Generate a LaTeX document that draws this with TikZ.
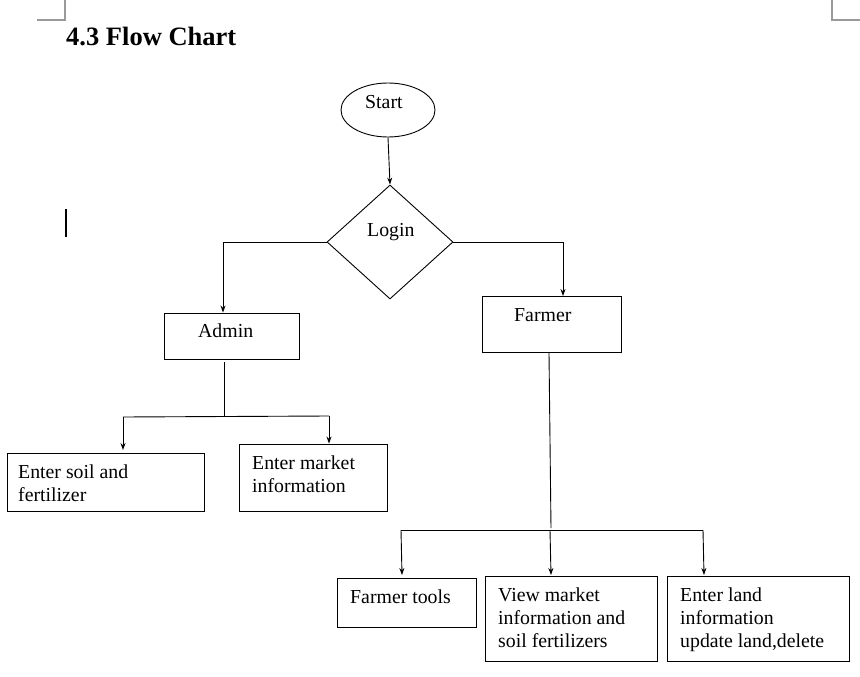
\documentclass[tikz,border=0pt]{standalone}
\usepackage{fontspec}
\setmainfont{Liberation Serif}
\usetikzlibrary{shapes.geometric,arrows.meta}
\newcommand\stacklines[1]{\vtop{\halign{##\hfil\cr#1\crcr}}}
\begin{document}
\begin{tikzpicture}[x=1pt,y=-1pt,
  box/.style={draw=black,line width=0.9pt,rectangle,inner sep=0pt},
  lbl/.style={anchor=base west,inner sep=0pt,font=\fontsize{19.8}{23}\selectfont},
  conn/.style={draw=black,line width=0.9pt},
  arr/.style={conn,-{Stealth[length=7pt,width=5pt]}},
  corner/.style={draw=black!40,line width=1.2pt}]
\useasboundingbox (0,0) rectangle (860,677);
% page corner marks
\coordinate (tl1) at (65,0); \coordinate (tl2) at (65,20); \coordinate (tl3) at (37,20);
\draw[corner] (tl1) -- (tl2) -- (tl3);
\coordinate (tr1) at (832,0); \coordinate (tr2) at (832,20); \coordinate (tr3) at (860,20);
\draw[corner] (tr1) -- (tr2) -- (tr3);
% text cursor
\coordinate (cur1) at (66,209); \coordinate (cur2) at (66,237);
\draw[line width=1.6pt] (cur1) -- (cur2);
% title
\node[anchor=base west,inner sep=0pt,font=\fontsize{26.5}{30}\selectfont\bfseries] (title) at (66,46) {4.3 Flow Chart};
% shapes
\node[draw=black,line width=0.9pt,ellipse,minimum width=94pt,minimum height=54pt,inner sep=0pt] (start) at (388,110) {};
\node[lbl] (starttxt) at (365,108) {Start};
\node[draw=black,line width=0.9pt,diamond,minimum width=126pt,minimum height=114pt,inner sep=0pt,aspect=1.1] (login) at (390,242) {};
\node[lbl] (logintxt) at (367,236) {Login};
\node[box,minimum width=135pt,minimum height=46pt] (admin) at (231.5,336) {};
\node[lbl] (admintxt) at (198,337) {Admin};
\node[box,minimum width=139pt,minimum height=56pt] (farmer) at (551.5,324.5) {};
\node[lbl] (farmertxt) at (514,321) {Farmer};
\node[box,minimum width=197pt,minimum height=58pt] (soil) at (105.5,482) {};
\node[lbl] (soiltxt) at (18,478) {\stacklines{Enter soil and\cr fertilizer}};
\node[box,minimum width=148pt,minimum height=67pt] (market) at (313,477.5) {};
\node[lbl] (markettxt) at (252,469) {\stacklines{Enter market\cr information}};
\node[box,minimum width=139pt,minimum height=49pt] (tools) at (406.5,602.5) {};
\node[lbl] (toolstxt) at (350,603) {Farmer tools};
\node[box,minimum width=172pt,minimum height=85pt] (view) at (571,618.5) {};
\node[lbl] (viewtxt) at (498,601) {\stacklines{View market\cr information and\cr soil fertilizers}};
\node[box,minimum width=182pt,minimum height=85pt] (land) at (758,618.5) {};
\node[lbl] (landtxt) at (680,601) {\stacklines{Enter land\cr information\cr update land,delete}};
% connectors
\draw[arr] (start.south) -- (login.north);
\coordinate (la) at (223,242);
\draw[conn] (login.west) -- (la);
\draw[arr] (la) -- ([xshift=-8.5pt]admin.north);
\coordinate (lf) at (563,242);
\draw[conn] (login.east) -- (lf);
\draw[arr] (lf) -- ([xshift=11.5pt]farmer.north);
% admin branch
\coordinate (a0) at (224,362); \coordinate (a1) at (224,416);
\coordinate (aL) at (123,417); \coordinate (aR) at (329,416);
\draw[conn] (a0) -- (a1);
\draw[conn] (aL) -- (aR);
\draw[arr] (aL) -- (123,450);
\draw[arr] (aR) -- ([xshift=16pt]market.north);
% farmer branch
\coordinate (f1) at (551,528);
\coordinate (fL) at (401,530); \coordinate (fM) at (550,530); \coordinate (fR) at (703,530);
\draw[conn] ([xshift=-2.5pt]farmer.south) -- (f1);
\draw[conn] (fL) -- (fR);
\draw[arr] (fL) -- (402,575);
\draw[arr] (fM) -- (551,575);
\draw[arr] (fR) -- (704,575);
\end{tikzpicture}
\end{document}
